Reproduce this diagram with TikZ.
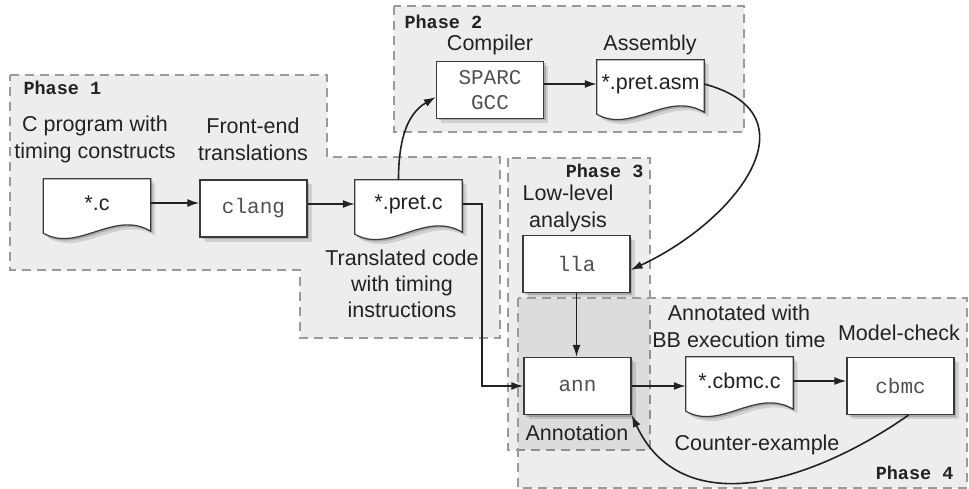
\documentclass[tikz,border=0pt]{standalone}
\usepackage{fontspec}
\setmainfont{Liberation Sans}
\setmonofont{Liberation Mono}
\usetikzlibrary{arrows.meta, calc, shadows}
\definecolor{phaseline}{HTML}{9A9A9A}
\definecolor{boxline}{HTML}{3A3A3A}
\definecolor{codegray}{HTML}{505050}
\definecolor{txtdark}{HTML}{222222}

\pgfdeclarelayer{phases}
\pgfdeclarelayer{docs}
\pgfsetlayers{phases,docs,main}

% wavy page outline under a doc node
\newcommand{\docoutline}[1]{%
  \draw[docline] ($(#1.south west)+(0,6)$) -- (#1.north west) -- (#1.north east)
    -- ($(#1.south east)+(0,4)$)
    .. controls ($(#1.south east)+(-37,-18)$) and ($(#1.south west)+(35,26)$)
    .. ($(#1.south west)+(0,6)$) -- cycle;}

\begin{document}
\begin{tikzpicture}[x=1pt, y=-1pt,
  font=\fontsize{21.5}{27}\selectfont, text=txtdark,
  softshadow/.style={drop shadow={shadow xshift=2pt, shadow yshift=-2pt, fill=black, opacity=0.18},
                     drop shadow={shadow xshift=4.5pt, shadow yshift=-4.5pt, fill=black, opacity=0.12}},
  phase/.style={draw=phaseline, line width=1.8pt, dash pattern=on 9pt off 6pt, fill=black, fill opacity=0.07},
  phaselbl/.style={font=\fontsize{18.5}{20}\selectfont\ttfamily\bfseries},
  proc/.style={draw=boxline, line width=1.2pt, fill=white, softshadow, align=center,
               minimum width=107pt, minimum height=57pt, text=codegray,
               font=\fontsize{21}{25}\selectfont\ttfamily},
  doc/.style={minimum width=107pt, minimum height=48pt, inner sep=0pt},
  docline/.style={draw=boxline, line width=1.2pt, fill=white, softshadow},
  lbl/.style={align=center},
  flow/.style={-{Latex[length=12pt,width=8pt]}, line width=1.6pt, draw=txtdark}]
\useasboundingbox (0,0) rectangle (969,489);

% Phase regions
\begin{pgfonlayer}{phases}
\path[phase] (10,75) -- (327,75) -- (327,157) -- (500,157) -- (500,338)
  -- (300,338) -- (300,270) -- (10,270) -- cycle;
\path[phase] (394,6) rectangle (744,132);
\path[phase] (508,158) rectangle (650,450);
\path[phase] (518,298) rectangle (967,488);
\end{pgfonlayer}

\node[phaselbl, anchor=west] (ph1) at (20,88) {Phase 1};
\node[phaselbl, anchor=west] (ph2) at (401,22) {Phase 2};
\node[phaselbl, anchor=east] (ph3) at (647,171) {Phase 3};
\node[phaselbl, anchor=east] (ph4) at (957,473) {Phase 4};

% Phase 1
\node[lbl] (cprog) at (95,139) {C program with\\timing constructs};
\node[lbl] (front) at (253,139) {Front-end\\translations};
\node[doc] (src) at (97,203) {*.c};
\node[proc] (clang) at (253.5,208.5) {clang};
\node[doc] (pretc) at (408.5,204) {*.pret.c};
\node[lbl, font=\fontsize{21.5}{26}\selectfont] (transl) at (402,284) {Translated code\\with timing\\instructions};

% Phase 2
\node (compl) at (490,45) {Compiler};
\node (asml) at (650,45) {Assembly};
\node[proc] (sparc) at (490,90) {SPARC\\GCC};
\node[doc] (asm) at (650.5,84) {*.pret.asm};

% Phase 3
\node[lbl] (lowl) at (568,208) {Low-level\\analysis};
\node[proc] (lla) at (576.5,264) {lla};
\node[proc] (ann) at (577.5,386) {ann};
\node (annl) at (577,433) {Annotation};

% Phase 4
\node[lbl] (bbl) at (739,326) {Annotated with\\BB execution time};
\node (mcl) at (899,333) {Model-check};
\node[doc] (cbmcc) at (739.5,381) {*.cbmc.c};
\node[proc] (cbmc) at (900.5,386) {cbmc};
\node (cexl) at (757,445) {Counter-example};

% page outlines
\begin{pgfonlayer}{docs}
\docoutline{src}
\docoutline{pretc}
\docoutline{asm}
\docoutline{cbmcc}
\end{pgfonlayer}

% Flow
\draw[flow] (src.east) -- (src.east -| clang.west);
\draw[flow] (clang.east |- pretc.west) -- (pretc.west);
\draw[flow] ([xshift=-10pt]pretc.north) to[out=90, in=210] ([yshift=-7pt]sparc.west);
\draw[flow] (sparc.east |- asm.west) -- (asm.west);
\draw[flow] (asm.east) to[out=-15, in=25, looseness=1.5] ([yshift=-6pt]lla.east);
\draw[flow] (lla.south) -- (lla.south |- ann.north);
\draw[flow] (pretc.east) -- ++(20,0) |- (ann.west);
\draw[flow] (ann.east) -- (ann.east -| cbmcc.west);
\draw[flow] (cbmcc.east) -- (cbmcc.east -| cbmc.west);
\draw[flow] ([xshift=8pt]cbmc.south) to[out=-145, in=-65, looseness=1.1] (ann.south east);

\end{tikzpicture}
\end{document}
